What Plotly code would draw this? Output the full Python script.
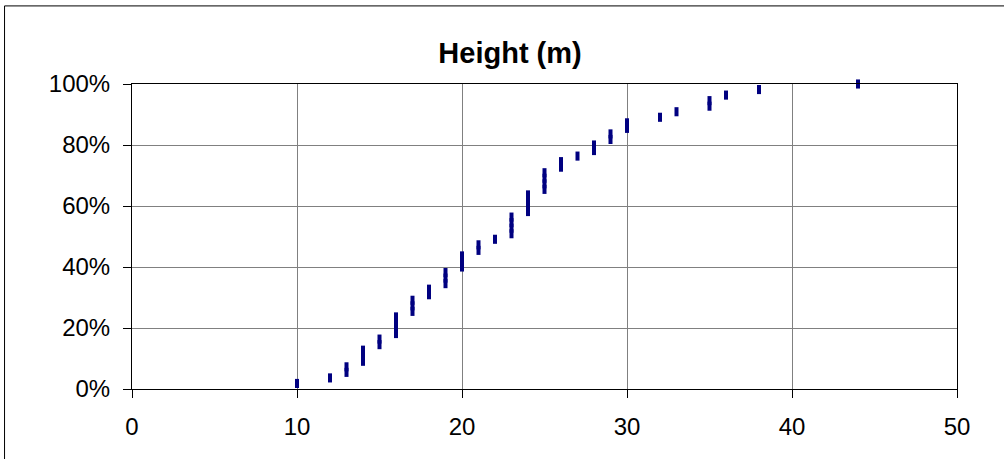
import plotly.graph_objects as go

# Tree heights (m), one entry per measured tree, sorted ascending
heights = [10, 12, 13, 13, 14, 14, 14, 15, 15, 16, 16, 16, 16,
           17, 17, 17, 18, 18, 19, 19, 19, 20, 20, 20, 21, 21, 22,
           23, 23, 23, 23, 24, 24, 24, 24, 25, 25, 25, 25, 26, 26,
           27, 28, 28, 29, 29, 30, 30, 32, 33, 35, 35, 36, 38, 44]

# Cumulative share of trees at or below each height
n = len(heights)
cum_share = [(i + 1) / n for i in range(n)]

x_ticks = [0, 10, 20, 30, 40, 50]
y_ticks = [0, 0.2, 0.4, 0.6, 0.8, 1.0]

FONT = "Liberation Sans, Arial, sans-serif"
NAVY = "#000080"

fig = go.Figure()
fig.add_trace(go.Scatter(
    x=heights, y=cum_share, mode="markers", cliponaxis=False,
    marker=dict(symbol="line-ns", size=6.5, color=NAVY,
                line=dict(color=NAVY, width=4)),
    hoverinfo="x+y", showlegend=False,
))

# Outer chart-area frame
fig.add_shape(type="rect", xref="paper", yref="paper",
              x0=-0.1545, x1=1.08, y0=-0.3, y1=1.256,
              line=dict(color="black", width=1), fillcolor="rgba(0,0,0,0)",
              layer="below")

fig.update_layout(
    width=1004, height=459,
    margin=dict(l=132, r=47, t=84, b=70),
    paper_bgcolor="white", plot_bgcolor="white",
    font=dict(family=FONT, size=24, color="black"),
    title=dict(text="<b>Height (m)</b>", x=0.508, xref="container", xanchor="center",
               y=0.885, yref="container", yanchor="middle",
               font=dict(family=FONT, size=29, color="black")),
    xaxis=dict(range=[0, 50], tickvals=x_ticks, ticks="outside", ticklen=8,
               tickcolor="black", showline=True, linecolor="black", linewidth=1,
               mirror=True, showgrid=True, gridcolor="#808080", gridwidth=1,
               zeroline=False, tickfont=dict(size=24), ticklabelstandoff=8),
    yaxis=dict(range=[0, 1], tickvals=y_ticks, tickformat=".0%", ticks="outside",
               ticklen=8, tickcolor="black", showline=True, linecolor="black",
               linewidth=1, mirror=True, showgrid=True, gridcolor="#808080",
               gridwidth=1, zeroline=False, tickfont=dict(size=24),
               ticklabelstandoff=8),
)

fig.write_html("out.html")
